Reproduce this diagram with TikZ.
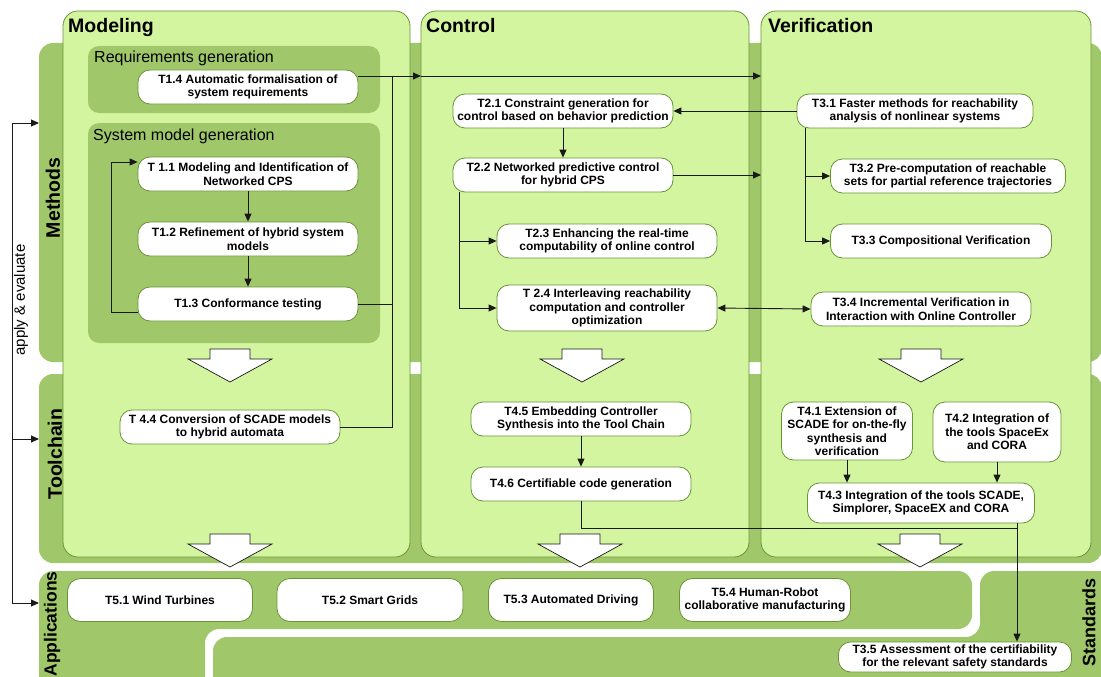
\documentclass[tikz,border=0pt]{standalone}
\usepackage{fontspec}
\setmainfont{Liberation Sans}
\usetikzlibrary{arrows.meta}
\definecolor{col-fill}{RGB}{212,245,160}
\definecolor{band-green}{RGB}{160,200,106}
\definecolor{edge-green}{RGB}{104,148,56}
\tikzset{
    band/.style = {fill=band-green, rounded corners=14pt},
    column-box/.style = {draw=edge-green, fill=col-fill, line width=0.8pt, rounded corners=15pt},
    group-box/.style = {fill=band-green, rounded corners=11pt},
    task-box/.style = {draw=edge-green, fill=white, line width=0.8pt, rounded corners=12pt, align=center, inner sep=2pt, minimum width=220pt, minimum height=34pt, font=\bfseries\fontsize{12}{13.5}\selectfont},
    column-title/.style = {anchor=base west, inner sep=0pt, font=\bfseries\fontsize{19.5}{22}\selectfont},
    band-title/.style = {rotate=90, inner sep=0pt, font=\bfseries\fontsize{19.5}{22}\selectfont},
    group-title/.style = {anchor=base west, inner sep=0pt, font=\fontsize{16}{18}\selectfont},
    flow/.style = {draw=black!90, line width=0.9pt, -{Triangle[length=8pt,width=7pt]}},
    bus/.style = {draw=black!90, line width=0.9pt},
    big-arrow/.style = {draw=black!90, fill=white, line width=0.7pt},
}

\begin{document}
\begin{tikzpicture}[x=1pt, y=-1pt]
\useasboundingbox (0,0) rectangle (1101,677);
\clip (0,0) rectangle (1101,677);

% bands
\fill[band] (39,43) rectangle (1102,362);
\fill[band] (39,374) rectangle (1102,563);
\fill[band] (39,571) -- (972,571) -- (972,629) -- (205,629) -- (205,700) -- (39,700) -- cycle;
\fill[band] (980,571) -- (1115,571) -- (1115,700) -- (213,700) -- (213,637) -- (980,637) -- cycle;

% columns
\filldraw[column-box] (63,11) rectangle (410,557);
\filldraw[column-box] (421,11) rectangle (749,557);
\filldraw[column-box] (761,11) rectangle (1091,557);
\fill[group-box] (88,46) rectangle (380,113);
\fill[group-box] (88,123) rectangle (380,343);

\node[column-title] (modeling) at (68,33) {Modeling};
\node[column-title] (control) at (426,33) {Control};
\node[column-title] (verification) at (768,33) {Verification};
\node[group-title] (reqgen) at (94,63) {Requirements generation};
\node[group-title] (sysgen) at (93,140) {System model generation};

\node[band-title] (methods) at (53,198) {Methods};
\node[band-title] (toolchain) at (55,454) {Toolchain};
\node[band-title, font=\bfseries\fontsize{17.5}{20}\selectfont] (applications) at (52,624) {Applications};
\node[band-title, font=\bfseries\fontsize{18}{20}\selectfont] (standards) at (1089,622) {Standards};
\node[rotate=90, inner sep=0pt, font=\fontsize{15}{17}\selectfont] (apply) at (21,300) {apply \& evaluate};

\foreach \cx/\cy in {230/349, 582/349, 921/349, 230/534, 580/534, 920/534}
    \filldraw[big-arrow] (\cx-20,\cy) -- (\cx+20,\cy) -- (\cx+20,\cy+10) -- (\cx+42,\cy+10)
        -- (\cx,\cy+33) -- (\cx-42,\cy+10) -- (\cx-20,\cy+10) -- cycle;

% modeling
\node[task-box] (t14) at (248,87) {T1.4 Automatic formalisation of\\system requirements};
\node[task-box] (t11) at (248,174) {T 1.1 Modeling and Identification of\\Networked CPS};
\node[task-box] (t12) at (248,239) {T1.2 Refinement of hybrid system\\models};
\node[task-box] (t13) at (248,304) {T1.3 Conformance testing};
\node[task-box] (t44) at (230,427) {T 4.4 Conversion of SCADE models\\to hybrid automata};

% control
\node[task-box] (t21) at (563,111) {T2.1 Constraint generation for\\control based on behavior prediction};
\node[task-box] (t22) at (563,175) {T2.2 Networked predictive control\\for hybrid CPS};
\node[task-box] (t23) at (607,241) {T2.3 Enhancing the real-time\\computability of online control};
\node[task-box, minimum height=46pt] (t24) at (607,308) {T 2.4 Interleaving reachability\\computation and controller\\optimization};
\node[task-box] (t45) at (581,419) {T4.5 Embedding Controller\\Synthesis into the Tool Chain};
\node[task-box] (t46) at (581,484) {T4.6 Certifiable code generation};

% verification
\node[task-box, minimum width=236pt] (t31) at (915,111) {T3.1 Faster methods for reachability\\analysis of nonlinear systems};
\node[task-box, minimum width=235pt] (t32) at (948,176) {T3.2 Pre-computation of reachable\\sets for partial reference trajectories};
\node[task-box, minimum width=221pt] (t33) at (941,241) {T3.3 Compositional Verification};
\node[task-box] (t34) at (921,309) {T3.4 Incremental Verification in\\Interaction with Online Controller};
\node[task-box, minimum width=131pt, minimum height=58pt] (t41) at (847,431) {T4.1 Extension of\\SCADE for on-the-fly\\synthesis and\\verification};
\node[task-box, minimum width=128pt, minimum height=60pt] (t42) at (997,432) {T4.2 Integration of\\the tools SpaceEx\\and CORA};
\node[task-box, minimum width=227pt, minimum height=40pt] (t43) at (921,503) {T4.3 Integration of the tools SCADE,\\Simplorer, SpaceEX and CORA};
\node[task-box, minimum width=233pt, minimum height=30pt] (t35) at (955,657) {T3.5 Assessment of the certifiability\\for the relevant safety standards};

% applications
\node[task-box, minimum width=185pt, minimum height=43pt, rounded corners=13pt] (t51) at (160,600) {T5.1 Wind Turbines};
\node[task-box, minimum width=186pt, minimum height=43pt, rounded corners=13pt] (t52) at (370,600) {T5.2 Smart Grids};
\node[task-box, minimum width=165pt, minimum height=43pt, rounded corners=13pt] (t53) at (571,600) {T5.3 Automated Driving};
\node[task-box, minimum width=171pt, minimum height=43pt, rounded corners=13pt] (t54) at (765,600) {T5.4 Human-Robot\\collaborative manufacturing};

% connectors
\coordinate (ctrl-in) at (421,76);
\coordinate (ver-in) at (761,76);
\coordinate (bus-top) at (392,76);
\coordinate (merge) at (1017,528);
\coordinate (ae-top) at (12,123);
\coordinate (ae-bot) at (12,603);
\coordinate (methods-in) at (39,123);
\coordinate (tool-in) at (39,439);
\coordinate (apps-in) at (39,603);

\draw[flow] (t14.east |- ctrl-in) -- (ctrl-in);
\draw[flow] (ctrl-in) -- (ver-in);
\draw[bus] (t13.east) -| (bus-top);
\draw[bus] (t44.east) -| (bus-top);
\draw[flow] (t11) -- (t12);
\draw[flow] (t12) -- (t13);
\draw[flow] ([yshift=-8pt]t13.west) -- ++(-26,0) |- ([yshift=12pt]t11.west);

\draw[flow] (t31) -- (t21);
\draw[flow] (t21) -- (t22);
\draw[flow] (t22.east) -- (t22.east -| ver-in);
\draw[flow] ([xshift=7pt]t22.south west) |- (t23.west);
\draw[flow] ([xshift=7pt]t22.south west) |- (t24.west);
\draw[flow, {Triangle[length=8pt,width=7pt]}-{Triangle[length=8pt,width=7pt]}] (t24.east) -- (t34.west);
\draw[flow] ([xshift=9pt]t31.south west) |- (t32.west);
\draw[flow] ([xshift=9pt]t31.south west) |- (t33.west);

\draw[flow] (t45) -- (t46);
\draw[flow] (t41) -- (t41.south |- t43.north);
\draw[flow] (t42) -- (t42.south |- t43.north);
\draw[bus] (t46.south) |- (merge);
\draw[flow] (t43.south -| merge) -- (merge |- t35.north);

\draw[flow] (ae-bot) |- (methods-in);
\draw[flow] (ae-bot |- tool-in) -- (tool-in);
\draw[flow] (ae-bot) -- (apps-in);
\end{tikzpicture}
\end{document}
